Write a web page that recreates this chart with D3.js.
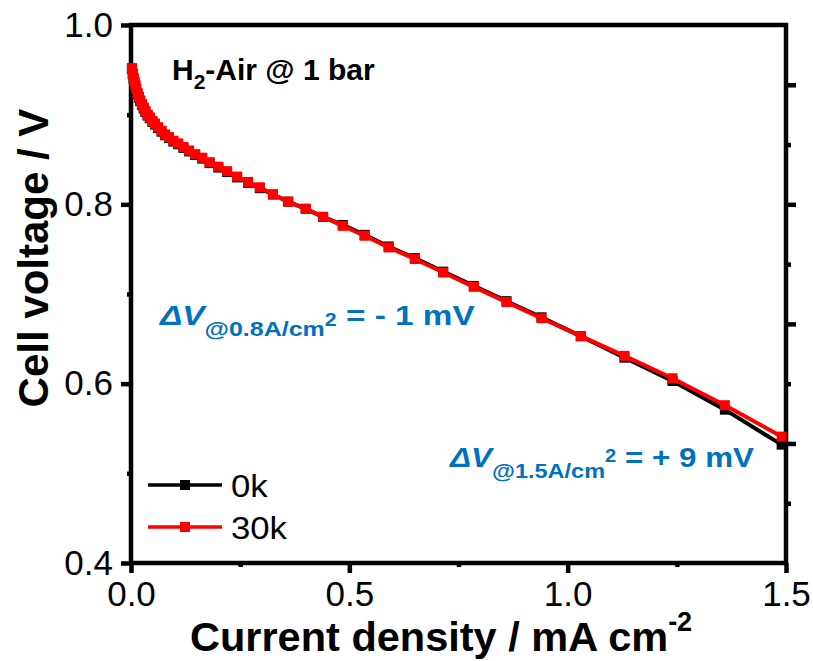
<!DOCTYPE html>
<html>
<head>
<meta charset="utf-8">
<script src="https://cdn.jsdelivr.net/npm/d3@7"></script>
<style>
  body { margin: 0; background: #fff; }
  svg text { font-family: "Liberation Sans", Arial, sans-serif; }
</style>
</head>
<body>
<div id="chart"></div>
<script>
// current density (A/cm2) and cell voltages (V)
var currentDensity = [0.002,0.004,0.006,0.008,0.010,0.012,0.015,0.018,0.021,0.025,
  0.029,0.033,0.038,0.043,0.049,0.055,0.062,0.070,0.078,0.087,
  0.097,0.108,0.120,0.133,0.147,0.163,0.180,0.200,0.220,0.243,
  0.268,0.295,0.325,0.360,0.400,0.440,0.485,0.535,0.590,0.650,
  0.715,0.785,0.860,0.940,1.030,1.130,1.240,1.360,1.490];
var voltage0k = [0.951,0.945,0.940,0.936,0.932,0.928,0.923,0.919,0.915,0.911,
  0.907,0.903,0.899,0.896,0.892,0.889,0.885,0.881,0.877,0.874,
  0.870,0.867,0.863,0.859,0.855,0.851,0.846,0.841,0.836,0.830,
  0.824,0.818,0.811,0.803,0.795,0.786,0.777,0.766,0.753,0.740,
  0.725,0.709,0.692,0.674,0.653,0.629,0.603,0.571,0.532];
var voltage30k = [0.952,0.946,0.941,0.937,0.933,0.929,0.924,0.920,0.916,0.912,
  0.908,0.904,0.900,0.897,0.893,0.890,0.886,0.882,0.878,0.875,
  0.871,0.868,0.864,0.860,0.856,0.852,0.847,0.842,0.837,0.831,
  0.825,0.819,0.811,0.803,0.795,0.786,0.776,0.765,0.752,0.739,
  0.724,0.708,0.691,0.673,0.653,0.631,0.606,0.576,0.541];
var seriesNames = ["0k", "30k"];
var seriesColors = ["#000000", "#ff0000"];
var xTicks = [0, 0.5, 1.0, 1.5];
var yTicks = [0.4, 0.6, 0.8, 1.0];

var width = 813, height = 661;
var plotLeft = 131, plotRight = 786, plotTop = 25, plotBottom = 563;
var axisWidth = 4.5;
var blue = "#0070c0";

var svg = d3.select("#chart").append("svg")
    .attr("width", width)
    .attr("height", height);

var x = d3.scaleLinear().domain([0, 1.5]).range([plotLeft, plotRight]);
var y = d3.scaleLinear().domain([0.4, 1.0]).range([plotBottom, plotTop]);

//Axes

function styleAxis(g) {
    g.select(".domain").remove();
    g.selectAll(".tick line").attr("stroke", "#000").attr("stroke-width", axisWidth);
    g.selectAll(".tick text").attr("fill", "#000").attr("font-size", "35px");
}

// minor ticks
svg.append("g")
    .attr("transform", "translate(0," + plotBottom + ")")
    .call(d3.axisBottom(x).tickValues([0.25, 0.75, 1.25]).tickSize(4).tickFormat(""))
    .call(styleAxis);
svg.append("g")
    .attr("transform", "translate(" + plotLeft + ",0)")
    .call(d3.axisLeft(y).tickValues([0.5, 0.7, 0.9]).tickSize(4).tickFormat(""))
    .call(styleAxis);

// major ticks
svg.append("g")
    .attr("transform", "translate(0," + plotBottom + ")")
    .call(d3.axisBottom(x).tickValues(xTicks).tickSize(10).tickPadding(8).tickFormat(d3.format(".1f")))
    .call(styleAxis);
svg.append("g")
    .attr("transform", "translate(" + plotLeft + ",0)")
    .call(d3.axisLeft(y).tickValues(yTicks).tickSize(10).tickPadding(8).tickFormat(d3.format(".1f")))
    .call(styleAxis);

// right axis ticks (no labels)
var yRight = d3.scaleLinear().domain([0, 9]).range([plotBottom, plotTop]);
svg.append("g")
    .attr("transform", "translate(" + plotRight + ",0)")
    .call(d3.axisRight(yRight).tickValues([2, 4, 6, 8]).tickSize(10).tickFormat(""))
    .call(styleAxis);
svg.append("g")
    .attr("transform", "translate(" + plotRight + ",0)")
    .call(d3.axisRight(yRight).tickValues([1, 3, 5, 7]).tickSize(5).tickFormat(""))
    .call(styleAxis);

// frame
svg.append("rect")
    .attr("x", plotLeft)
    .attr("y", plotTop)
    .attr("width", plotRight - plotLeft)
    .attr("height", plotBottom - plotTop)
    .attr("fill", "none")
    .attr("stroke", "#000")
    .attr("stroke-width", axisWidth);

//Data

var line = d3.line()
    .x(function (d) { return x(d[0]); })
    .y(function (d) { return y(d[1]); });

var series = [voltage0k, voltage30k];
series.forEach(function (vals, i) {
    var pts = currentDensity.map(function (c, k) { return [c, vals[k]]; });
    var g = svg.append("g");
    g.append("path")
        .datum(pts)
        .attr("d", line)
        .attr("fill", "none")
        .attr("stroke", seriesColors[i])
        .attr("stroke-width", 4);
    g.selectAll("rect")
        .data(pts)
        .enter()
        .append("rect")
        .attr("x", function (d) { return x(d[0]) - 5; })
        .attr("y", function (d) { return y(d[1]) - 5; })
        .attr("width", 10)
        .attr("height", 10)
        .attr("fill", seriesColors[i]);
});

//Legend

seriesNames.forEach(function (name, i) {
    var ly = 485 + i * 42;
    svg.append("line")
        .attr("x1", 148).attr("x2", 222)
        .attr("y1", ly).attr("y2", ly)
        .attr("stroke", seriesColors[i])
        .attr("stroke-width", 3.5);
    svg.append("rect")
        .attr("x", 180).attr("y", ly - 5)
        .attr("width", 10).attr("height", 10)
        .attr("fill", seriesColors[i]);
    svg.append("text")
        .attr("transform", "translate(231," + (ly + 12) + ") scale(1.12,1)")
        .attr("font-size", "31px")
        .text(name);
});

//Labels

var title = svg.append("text")
    .attr("x", 172).attr("y", 80)
    .attr("font-size", "30px")
    .attr("font-weight", "bold");
title.append("tspan").text("H");
title.append("tspan").attr("font-size", "21px").attr("dy", 9).text("2");
title.append("tspan").attr("dy", -9).text("-Air @ 1 bar");

var xTitle = svg.append("text")
    .attr("x", 190).attr("y", 651)
    .attr("font-size", "41.5px")
    .attr("font-weight", "bold");
xTitle.append("tspan").text("Current density / mA cm");
xTitle.append("tspan").attr("font-size", "27px").attr("dy", -20).text("-2");

svg.append("text")
    .attr("transform", "translate(48,258) rotate(-90)")
    .attr("text-anchor", "middle")
    .attr("font-size", "42px")
    .attr("font-weight", "bold")
    .text("Cell voltage / V");

function deltaLabel(xp, base, sub, value, supDy, stretch) {
    var t = svg.append("text")
        .attr("transform", "translate(" + xp + "," + base + ") scale(" + stretch + ",1)")
        .attr("fill", blue)
        .attr("font-weight", "bold")
        .attr("font-size", "28px");
    t.append("tspan").attr("font-style", "italic").text("\u0394V");
    t.append("tspan").attr("font-size", "21px").attr("dy", 11).text(sub);
    t.append("tspan").attr("font-size", "18px").attr("dy", supDy).text("2");
    t.append("tspan").attr("dy", -11 - supDy).text(" = " + value);
}
deltaLabel(160, 325, "@0.8A/cm", "- 1 mV", -10, 1.19);
deltaLabel(450, 467, "@1.5A/cm", "+ 9 mV", -16, 1.12);
</script>
</body>
</html>
